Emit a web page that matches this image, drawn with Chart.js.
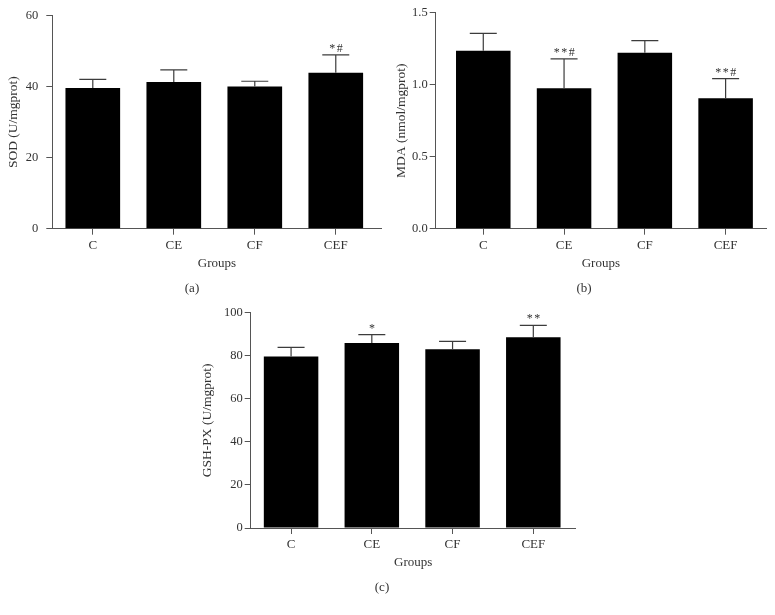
<!DOCTYPE html>
<html>
<head>
<meta charset="utf-8">
<script src="https://cdn.jsdelivr.net/npm/chart.js@4.4.1/dist/chart.umd.min.js"></script>
<style>
  body { margin: 0; background: #fff; }
  #wrap { position: relative; width: 775px; height: 615px; overflow: hidden; }
  canvas { position: absolute; }
  .cap { position: absolute; font: 13px "Liberation Serif", serif; color: #333; transform: translate(-50%, -50%); white-space: nowrap; }
</style>
</head>
<body>
<div id="wrap">
  <canvas id="chart-a" width="385" height="300" style="left:0;top:0"></canvas>
  <canvas id="chart-b" width="390" height="300" style="left:385px;top:0"></canvas>
  <canvas id="chart-c" width="400" height="315" style="left:190px;top:300px"></canvas>
  <div class="cap" style="left:192px;top:288px">(a)</div>
  <div class="cap" style="left:584px;top:288px">(b)</div>
  <div class="cap" style="left:382px;top:587px">(c)</div>
</div>
<script>
const groups = ['C', 'CE', 'CF', 'CEF'];

const sodMean = [39.6, 41.3, 40.0, 43.9];
const sodErr = [2.4, 3.4, 1.5, 5.0];
const sodMarks = ['', '', '', '*#'];

const mdaMean = [1.236, 0.975, 1.222, 0.906];
const mdaErr = [0.121, 0.205, 0.084, 0.136];
const mdaMarks = ['', '**#', '', '**#'];

const gshMean = [79.7, 85.9, 83.0, 88.6];
const gshErr = [4.2, 3.9, 3.7, 5.5];
const gshMarks = ['', '*', '', '**'];

const textColor = '#333';
const axisColor = '#555';
Chart.defaults.font.family = '"Liberation Serif", "DejaVu Serif", serif';
Chart.defaults.color = textColor;

function makeChart(id, opt) {
    const canvas = document.getElementById(id);
    const W = canvas.width, H = canvas.height;

    // error bars + significance marks, drawn through the scales
    const errorBars = {
        id: 'errorBars',
        afterDatasetsDraw(chart) {
            const { ctx, scales: { x, y } } = chart;
            ctx.save();
            ctx.strokeStyle = '#3c3c3c';
            ctx.lineWidth = 1.2;
            ctx.fillStyle = textColor;
            ctx.font = '12px "Liberation Serif", serif';
            ctx.textAlign = 'center';
            ctx.textBaseline = 'alphabetic';
            ctx.letterSpacing = '1.5px';
            opt.mean.forEach((m, i) => {
                const px = x.getPixelForValue(i);
                const yb = y.getPixelForValue(m);
                const yt = y.getPixelForValue(m + opt.err[i]);
                ctx.beginPath();
                ctx.moveTo(px, yb);
                ctx.lineTo(px, yt);
                ctx.moveTo(px - 13.5, yt);
                ctx.lineTo(px + 13.5, yt);
                ctx.stroke();
                if (opt.marks[i]) ctx.fillText(opt.marks[i], px + 1, yt - 3);
            });
            ctx.restore();
        }
    };

    return new Chart(canvas, {
        type: 'bar',
        data: {
            datasets: [{
                data: opt.mean.map((v, i) => ({ x: i, y: v })),
                backgroundColor: '#000',
                borderWidth: 0,
                categoryPercentage: 1,
                barPercentage: 0.675
            }]
        },
        options: {
            responsive: false,
            animation: false,
            devicePixelRatio: 1,
            layout: { padding: { left: 0, top: opt.box.top, right: W - opt.box.right, bottom: 0 } },
            plugins: { legend: { display: false }, tooltip: { enabled: false } },
            scales: {
                x: {
                    type: 'linear',
                    bounds: 'data',
                    offset: false,
                    min: opt.xMin,
                    max: opt.xMax,
                    afterBuildTicks: s => { s.ticks = groups.map((g, i) => ({ value: i })); },
                    afterFit: s => { s.height = H - opt.box.bottom; },
                    ticks: {
                        callback: v => groups[v],
                        font: { size: 13 },
                        color: textColor,
                        padding: 3,
                        maxRotation: 0,
                        autoSkip: false
                    },
                    grid: { offset: false, drawOnChartArea: false, tickLength: 6, color: axisColor },
                    border: { color: axisColor, width: 1 },
                    title: {
                        display: true,
                        text: 'Groups',
                        font: { size: 13 },
                        color: textColor,
                        padding: { top: 0, bottom: opt.xTitlePad }
                    }
                },
                y: {
                    min: 0,
                    max: opt.yMax,
                    afterFit: s => { s.width = opt.box.left; },
                    ticks: {
                        stepSize: opt.yStep,
                        callback: v => v.toFixed(opt.decimals),
                        font: { size: 12.5 },
                        color: textColor,
                        padding: opt.yTickPad
                    },
                    grid: { drawOnChartArea: false, tickLength: 6, color: axisColor },
                    border: { color: axisColor, width: 1 },
                    title: {
                        display: true,
                        text: opt.yTitle,
                        font: { size: 13.5 },
                        color: textColor,
                        padding: { top: opt.yTitlePad, bottom: 0 }
                    }
                }
            }
        },
        plugins: [errorBars]
    });
}

makeChart('chart-a', {
    mean: sodMean, err: sodErr, marks: sodMarks,
    yMax: 60, yStep: 20, decimals: 0, yTitle: 'SOD (U/mgprot)',
    box: { left: 52.3, right: 381.7, top: 12.7, bottom: 228.7 },
    xMin: -0.5, xMax: 3.567, yTickPad: 8, yTitlePad: 5.5, xTitlePad: 28.6
});

makeChart('chart-b', {
    mean: mdaMean, err: mdaErr, marks: mdaMarks,
    yMax: 1.5, yStep: 0.5, decimals: 1, yTitle: 'MDA (nmol/mgprot)',
    box: { left: 50.7, right: 381, top: 12.7, bottom: 228.7 },
    xMin: -0.589, xMax: 3.5, yTickPad: 2, yTitlePad: 8.5, xTitlePad: 28.6
});

makeChart('chart-c', {
    mean: gshMean, err: gshErr, marks: gshMarks,
    yMax: 100, yStep: 20, decimals: 0, yTitle: 'GSH-PX (U/mgprot)',
    box: { left: 60.7, right: 385.7, top: 12.7, bottom: 228 },
    xMin: -0.5, xMax: 3.525, yTickPad: 2, yTitlePad: 9, xTitlePad: 45
});
</script>
</body>
</html>
